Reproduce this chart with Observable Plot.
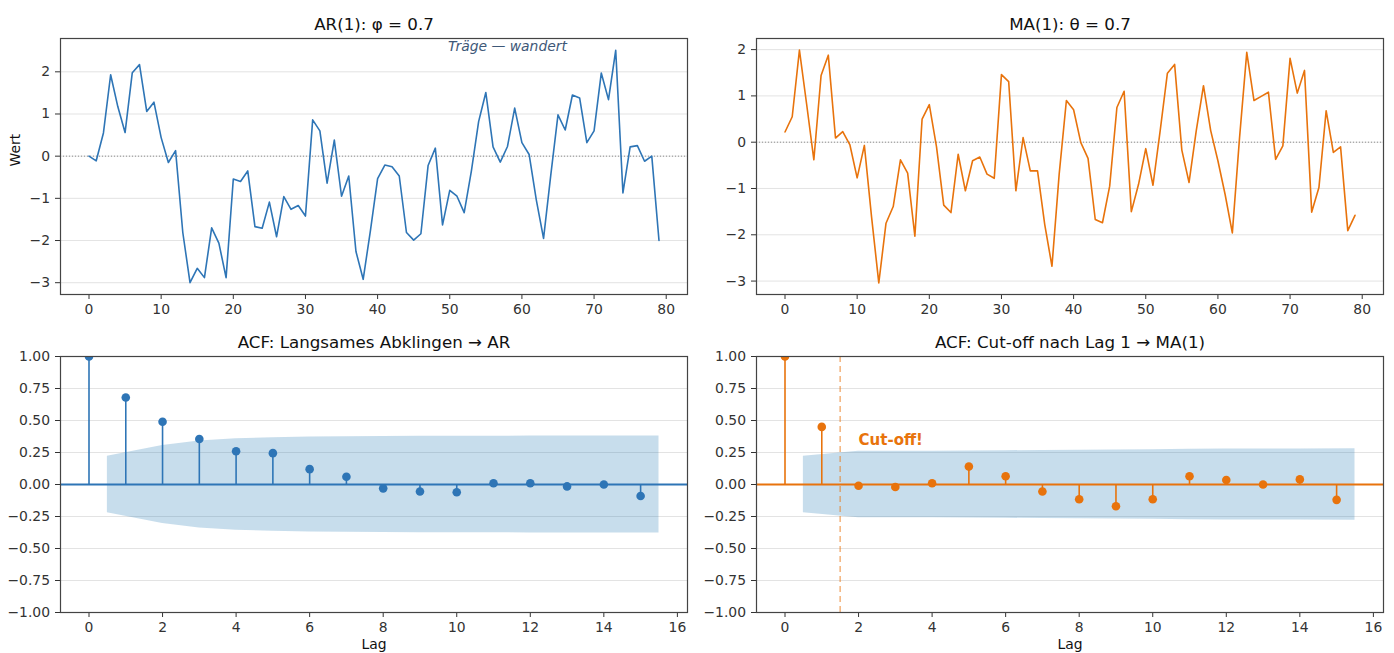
<!DOCTYPE html>
<html>
<head>
<meta charset="utf-8">
<script src="https://cdn.jsdelivr.net/npm/d3@7"></script>
<script src="https://cdn.jsdelivr.net/npm/@observablehq/plot@0.6"></script>
<style>
  html, body { margin: 0; padding: 0; background: #fff; }
  #root { position: relative; width: 1394px; height: 653px; overflow: hidden; background: #fff; }
  #root svg { position: absolute; overflow: visible; }
</style>
</head>
<body>
<div id="root"></div>
<script>
// ---- Data ----
const arSeries = [0.0, -0.11, 0.55, 1.93, 1.17, 0.56, 1.98, 2.17, 1.06, 1.28,
  0.44, -0.15, 0.13, -1.81, -3.0, -2.66, -2.88, -1.70, -2.06, -2.88,
  -0.54, -0.60, -0.35, -1.67, -1.71, -1.09, -1.91, -0.96, -1.26, -1.17,
  -1.42, 0.86, 0.60, -0.64, 0.38, -0.95, -0.47, -2.26, -2.92, -1.77,
  -0.53, -0.21, -0.25, -0.47, -1.81, -1.99, -1.84, -0.22, 0.19, -1.63,
  -0.81, -0.95, -1.34, -0.35, 0.82, 1.51, 0.22, -0.14, 0.23, 1.14,
  0.32, 0.04, -1.04, -1.95, -0.45, 0.98, 0.62, 1.45, 1.38, 0.32,
  0.60, 1.97, 1.34, 2.51, -0.87, 0.22, 0.25, -0.12, 0.0, -2.0];

const maSeries = [0.22, 0.55, 1.99, 0.82, -0.38, 1.44, 1.88, 0.09, 0.23, -0.06,
  -0.77, -0.07, -1.62, -3.04, -1.75, -1.39, -0.38, -0.67, -2.03, 0.50,
  0.81, -0.10, -1.36, -1.52, -0.26, -1.05, -0.40, -0.32, -0.69, -0.78,
  1.46, 1.31, -1.05, 0.10, -0.62, -0.62, -1.78, -2.68, -0.69, 0.90,
  0.70, -0.01, -0.35, -1.67, -1.74, -0.95, 0.75, 1.10, -1.50, -0.91,
  -0.14, -0.93, 0.25, 1.49, 1.68, -0.17, -0.87, 0.25, 1.22, 0.25,
  -0.40, -1.13, -1.96, 0.10, 1.94, 0.90, 0.99, 1.08, -0.37, -0.08,
  1.81, 1.06, 1.55, -1.51, -0.98, 0.68, -0.22, -0.10, -1.91, -1.58];

const lags = [0, 1, 2, 3, 4, 5, 6, 7, 8, 9, 10, 11, 12, 13, 14, 15];
const arAcf = [1.0, 0.68, 0.49, 0.355, 0.26, 0.245, 0.12, 0.06, -0.03, -0.055, -0.06, 0.01, 0.01, -0.015, 0.0, -0.09];
const maAcf = [1.0, 0.45, -0.01, -0.02, 0.01, 0.14, 0.065, -0.055, -0.115, -0.17, -0.115, 0.065, 0.035, 0.0, 0.04, -0.12];

const bandX = [0.5, 2, 3, 4, 5, 6, 7, 8, 9, 10, 11, 12, 13, 14, 15.5];
const arBand = [0.22, 0.305, 0.34, 0.357, 0.366, 0.372, 0.374, 0.375, 0.376, 0.377, 0.377, 0.378, 0.378, 0.378, 0.378];
const maBand = [0.22, 0.26, 0.26, 0.26, 0.261, 0.264, 0.266, 0.267, 0.269, 0.272, 0.275, 0.277, 0.278, 0.278, 0.279];

const tsTicksX = [0, 10, 20, 30, 40, 50, 60, 70, 80];
const tsTicksY = [-3, -2, -1, 0, 1, 2];
const acfTicksX = [0, 2, 4, 6, 8, 10, 12, 14, 16];
const acfTicksY = [-1, -0.75, -0.5, -0.25, 0, 0.25, 0.5, 0.75, 1];

const titles = ["AR(1): φ = 0.7", "MA(1): θ = 0.7", "ACF: Langsames Abklingen → AR", "ACF: Cut-off nach Lag 1 → MA(1)"];

const BLUE = "#2e75b6";
const ORANGE = "#e8730c";
const BAND = "#1f77b4";

const FONT = "DejaVu Sans, Liberation Sans, sans-serif";
const baseStyle = {fontFamily: FONT, fontSize: "13.9px", color: "#333", background: "transparent", overflow: "visible"};

const root = document.getElementById("root");
function place(svg, left, top) {
  svg.style.left = left + "px";
  svg.style.top = top + "px";
  root.appendChild(svg);
}

function tsPanel(values, color, title, yDomain, opts) {
  const data = values.map((v, i) => ({t: i, v}));
  const marks = [
    Plot.gridY(tsTicksY, {stroke: "#b0b0b0", strokeOpacity: 0.35, strokeWidth: 1}),
    Plot.ruleY([0], {stroke: "#777", strokeWidth: 0.8, strokeDasharray: "1,2"}),
    Plot.line(data, {x: "t", y: "v", stroke: color, strokeWidth: 1.6}),
    Plot.axisX({ticks: tsTicksX, tickSize: 5, tickPadding: 5, label: null, tickFormat: d3.format("d")}),
    Plot.axisY({ticks: tsTicksY, tickSize: 5, tickPadding: 5.5, label: null, tickFormat: d3.format("d")}),
    Plot.frame({stroke: "#444", strokeWidth: 1.2}),
    Plot.text([title], {frameAnchor: "top", lineAnchor: "bottom", dy: -8.3, fontSize: 16.7, fill: "#111"})
  ];
  if (opts.ylabel) {
    marks.push(Plot.text([opts.ylabel], {frameAnchor: "left", rotate: -90, dx: -45, fontSize: 13.9, fill: "#111"}));
  }
  if (opts.note) {
    marks.push(Plot.text([opts.note], {x: [opts.note.x], text: [opts.note.text], frameAnchor: "top", lineAnchor: "top", dy: 2.5, fontSize: 13.9, fontStyle: "italic", fill: "#3e5878"}));
  }
  return Plot.plot({
    width: 697, height: 326,
    marginLeft: opts.ml, marginRight: opts.mr, marginTop: 38, marginBottom: 32,
    x: {domain: [-3.95, 82.95]},
    y: {domain: yDomain},
    style: baseStyle,
    marks
  });
}

function acfPanel(acf, band, color, title, opts) {
  const pts = lags.map((l, i) => ({lag: l, r: acf[i]}));
  const bnd = bandX.map((x, i) => ({x, u: band[i], l: -band[i]}));
  const marks = [
    Plot.gridY(acfTicksY, {stroke: "#b0b0b0", strokeOpacity: 0.35, strokeWidth: 1}),
    Plot.areaY(bnd, {x: "x", y1: "l", y2: "u", fill: BAND, fillOpacity: 0.25}),
    Plot.ruleX(pts, {x: "lag", y1: 0, y2: "r", stroke: color, strokeWidth: 1.6, clip: true}),
    Plot.ruleY([0], {stroke: color, strokeWidth: 2}),
    Plot.dot(pts, {x: "lag", y: "r", r: 4.3, fill: color, stroke: "none", clip: true}),
    Plot.axisX({ticks: acfTicksX, tickSize: 5, tickPadding: 5, label: null, tickFormat: d3.format("d")}),
    Plot.axisY({ticks: acfTicksY, tickSize: 5, tickPadding: 5.5, label: null, tickFormat: d3.format(".2f")}),
    Plot.frame({stroke: "#444", strokeWidth: 1.2}),
    Plot.text([title], {frameAnchor: "top", lineAnchor: "bottom", dy: -8.3, fontSize: 16.7, fill: "#111"}),
    Plot.text(["Lag"], {frameAnchor: "bottom", lineAnchor: "top", dy: 26.5, fontSize: 13.9, fill: "#111"})
  ];
  if (opts.cut) {
    marks.splice(2, 0, Plot.ruleX([opts.cut.x], {stroke: color, strokeOpacity: 0.55, strokeWidth: 1.5, strokeDasharray: "6,4"}));
    marks.push(Plot.text([opts.cut.label], {x: [opts.cut.lx], y: [opts.cut.ly], text: [opts.cut.label], textAnchor: "start", lineAnchor: "middle", fontSize: 15, fontWeight: "bold", fill: color}));
  }
  return Plot.plot({
    width: 697, height: 327,
    marginLeft: opts.ml, marginRight: opts.mr, marginTop: 30, marginBottom: 41,
    x: {domain: [-0.775, 16.275]},
    y: {domain: [-1, 1]},
    style: baseStyle,
    marks
  });
}

place(tsPanel(arSeries, BLUE, titles[0], [-3.28, 2.79], {ml: 60, mr: 10, ylabel: "Wert", note: {x: 58, text: "Träge — wandert"}}), 0, 0);
place(tsPanel(maSeries, ORANGE, titles[1], [-3.29, 2.24], {ml: 59, mr: 11}), 697, 0);
place(acfPanel(arAcf, arBand, BLUE, titles[2], {ml: 60, mr: 10}), 0, 326);
place(acfPanel(maAcf, maBand, ORANGE, titles[3], {ml: 59, mr: 11, cut: {x: 1.5, label: "Cut-off!", lx: 2, ly: 0.35}}), 697, 326);
</script>
</body>
</html>
